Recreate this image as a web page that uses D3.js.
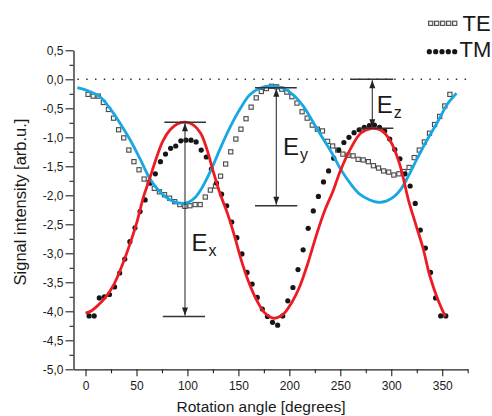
<!DOCTYPE html>
<html><head><meta charset="utf-8">
<script src="https://cdn.jsdelivr.net/npm/d3@7"></script>
<style>
body{margin:0;background:#fff}
svg{display:block}
text{font-family:"Liberation Sans",Arial,Helvetica,sans-serif;fill:#1a1a1a}
</style>
</head><body>
<svg id="chart" width="492" height="416"></svg>
<script>
// ---------- data ----------
const teAngles = [2.5,7.5,12.5,17.5,22.5,27.5,32.5,37.5,42.5,47.5,52.5,57.5,62.5,67.5,72.5,77.5,82.5,87.5,92.5,97.5,102.5,107.5,112.5,117.5,122.5,127.5,132.5,137.5,142.5,147.5,152.5,157.5,162.5,167.5,172.5,177.5,182.5,187.5,192.5,197.5,202.5,207.5,212.5,217.5,222.5,227.5,232.5,237.5,242.5,247.5,252.5,257.5,262.5,267.5,272.5,277.5,282.5,287.5,292.5,297.5,302.5,307.5,312.5,317.5,322.5,327.5,332.5,337.5,342.5,347.5,352.5,357.5];
const teValues = [-0.26,-0.29,-0.29,-0.40,-0.52,-0.67,-0.87,-1.01,-1.22,-1.42,
 -1.56,-1.72,-1.78,-1.88,-1.94,-1.99,-2.05,-2.11,-2.16,-2.19,
 -2.18,-2.16,-2.16,-2.03,-1.91,-1.84,-1.67,-1.46,-1.25,-1.03,
 -0.86,-0.68,-0.48,-0.32,-0.21,-0.16,-0.12,-0.13,-0.17,-0.22,
 -0.30,-0.41,-0.56,-0.67,-0.79,-0.86,-0.89,-1.07,-1.15,-1.22,
 -1.29,-1.31,-1.32,-1.38,-1.39,-1.42,-1.49,-1.53,-1.58,-1.60,
 -1.65,-1.63,-1.59,-1.52,-1.35,-1.22,-1.08,-0.93,-0.78,-0.64,
 -0.46,-0.26];
const tmAngles = [3.5,8.5,13.5,18.5,23.5,28.5,33.5,38.5,43.5,48.5,53.5,58.5,63.5,68.5,73.5,78.5,83.5,88.5,93.5,98.5,103.5,108.5,113.5,118.5,123.5,128.5,133.5,138.5,143.5,148.5,153.5,158.5,163.5,168.5,173.5,178.5,183.5,188.5,193.5,198.5,203.5,208.5,213.5,218.5,223.5,228.5,233.5,238.5,243.5,248.5,253.5,258.5,263.5,268.5,273.5,278.5,283.5,288.5,293.5,298.5,303.5,308.5,313.5,318.5,323.5,328.5,333.5,338.5,343.5,348.5,353.5];
const tmValues = [-4.08,-4.08,-3.77,-3.75,-3.71,-3.58,-3.34,-3.10,-2.80,-2.56,
 -2.28,-2.08,-1.79,-1.63,-1.42,-1.29,-1.19,-1.15,-1.06,-1.05,
 -1.05,-1.08,-1.22,-1.34,-1.55,-1.79,-1.98,-2.18,-2.46,-2.73,
 -3.01,-3.33,-3.53,-3.76,-3.96,-4.09,-4.19,-4.24,-4.08,-3.82,
 -3.59,-3.28,-2.94,-2.57,-2.27,-2.02,-1.77,-1.58,-1.36,-1.22,
 -1.09,-1.00,-0.92,-0.87,-0.83,-0.80,-0.79,-0.83,-0.89,-1.03,
 -1.21,-1.37,-1.63,-1.84,-2.14,-2.60,-2.91,-3.33,-3.77,-4.08,
 -4.08];
// fitted curves
const fitTEAngles = [-8,4,14,24,34,44,54,63,73,83,94,102,108,114,120,126,132,142,152,161,171,183,194,204,214,224,233,243,250,260,269,279,287,295,303,310,317,325,335,345,355,364];
const fitTEValues = [-0.145,-0.21,-0.30,-0.50,-0.76,-1.05,-1.39,-1.71,-1.94,-2.08,-2.14,-2.11,-2.03,-1.88,-1.68,-1.45,-1.20,-0.82,-0.50,-0.27,-0.155,-0.115,-0.155,-0.27,-0.47,-0.76,-1.02,-1.31,-1.54,-1.80,-1.98,-2.08,-2.12,-2.10,-2.02,-1.88,-1.66,-1.38,-1.05,-0.75,-0.43,-0.24];
const fitTMAngles = [0,5,12,20,28,35,42,50,57,63,70,76,83,90,98,106,113,119,125,132,140,147,152,160,168,176,185,194,202,210,218,227,235,243,250,260,270,280,290,299,308,317,324,331,338,346,353];
const fitTMValues = [-4.03,-4.0,-3.9,-3.75,-3.53,-3.25,-2.92,-2.49,-2.02,-1.71,-1.33,-1.06,-0.87,-0.77,-0.74,-0.79,-0.93,-1.2,-1.57,-1.97,-2.35,-2.75,-3.07,-3.49,-3.81,-4.03,-4.12,-4.05,-3.86,-3.58,-3.18,-2.66,-2.25,-1.92,-1.58,-1.2,-0.93,-0.85,-0.88,-1.06,-1.45,-2.09,-2.5,-2.9,-3.4,-3.81,-4.09];

const xMajorTicks = [0,50,100,150,200,250,300,350];
const xMinorTicks = [25,75,125,175,225,275,325,375];
const yMajorTicks = [0.5,0,-0.5,-1,-1.5,-2,-2.5,-3,-3.5,-4,-4.5,-5];
const yTickLabels = ["0,5","0,0","-0,5","-1,0","-1,5","-2,0","-2,5","-3,0","-3,5","-4,0","-4,5","-5,0"];
const yMinorTicks = [0.25,-0.25,-0.75,-1.25,-1.75,-2.25,-2.75,-3.25,-3.75,-4.25,-4.75];

// annotation markers (data units)
const annNames = ["x","y","z"];
const annAngle = [97.6,187.2,281.4];
const annTop = [-0.74,-0.145,0];
const annBottom = [-4.09,-2.18,-0.845];
const annCapTop = [[77.3,118.2],[166.3,207.3],[260.3,302]];
const annCapBottom = [[75.8,117.3],[166.3,207.8],[268.7,302]];
const annLabelPos = [[104,-2.955],[193.8,-1.305],[285.8,-0.586]];

const legendLabels = ["TE","TM"];

// ---------- drawing ----------
const svg = d3.select("#chart");
const x = d3.scaleLinear().domain([-11.8,375]).range([73.5,467.7]);
const y = d3.scaleLinear().domain([-5,0.5]).range([369.3,50.3]);
const ink = "#222";

// zero dotted line
svg.append("line")
  .attr("x1", x(-8)).attr("x2", x(375))
  .attr("y1", y(0)).attr("y2", y(0))
  .attr("stroke", "#333").attr("stroke-width", 1.5)
  .attr("stroke-dasharray", "1.5,7.3");

// axes
function styleAxis(g){
  g.selectAll("path.domain").attr("stroke", ink).attr("stroke-width", 1.3);
  g.selectAll(".tick line").attr("stroke", ink).attr("stroke-width", 1.1);
  g.selectAll(".tick text").attr("font-size", 12).attr("fill", "#1a1a1a")
    .attr("font-family", '"Liberation Sans",Arial,sans-serif');
}
const yAxis = svg.append("g").attr("transform", `translate(${x.range()[0]},0)`)
  .call(d3.axisLeft(y).tickValues(yMajorTicks).tickSize(8).tickSizeOuter(0).tickPadding(2)
    .tickFormat((d,i)=>yTickLabels[i]));
styleAxis(yAxis);
const yMinor = svg.append("g").attr("transform", `translate(${x.range()[0]},0)`)
  .call(d3.axisLeft(y).tickValues(yMinorTicks).tickSize(4).tickSizeOuter(0).tickFormat(""));
yMinor.select("path.domain").remove();
styleAxis(yMinor);

const xAxis = svg.append("g").attr("transform", `translate(0,${y.range()[0]})`)
  .call(d3.axisBottom(x).tickValues(xMajorTicks).tickSize(7).tickSizeOuter(0).tickPadding(5));
styleAxis(xAxis);
const xMinor = svg.append("g").attr("transform", `translate(0,${y.range()[0]})`)
  .call(d3.axisBottom(x).tickValues(xMinorTicks).tickSize(4).tickSizeOuter(0).tickFormat(""));
xMinor.select("path.domain").remove();
styleAxis(xMinor);

// axis titles
svg.append("text").attr("transform", "translate(26,202) rotate(-90)")
  .attr("text-anchor", "middle").attr("font-size", 16.5).text("Signal intensity [arb.u.]");
svg.append("text").attr("x", 261).attr("y", 411.5)
  .attr("text-anchor", "middle").attr("font-size", 15.5).text("Rotation angle [degrees]");

// scatter TE (open squares)
const sq = 4.2;
svg.append("g").selectAll("rect").data(teAngles.map((a,i)=>[a,teValues[i]])).join("rect")
  .attr("x", d=>x(d[0])-sq/2).attr("y", d=>y(d[1])-sq/2)
  .attr("width", sq).attr("height", sq)
  .attr("fill", "#f4f4f4").attr("stroke", "#4a4a4a").attr("stroke-width", 1.1);

// scatter TM (filled dots)
svg.append("g").selectAll("circle").data(tmAngles.map((a,i)=>[a,tmValues[i]])).join("circle")
  .attr("cx", d=>x(d[0])).attr("cy", d=>y(d[1])).attr("r", 2.6)
  .attr("fill", "#161616");

// fit lines
const line = d3.line().x(d=>x(d[0])).y(d=>y(d[1])).curve(d3.curveCatmullRom.alpha(0.5));
svg.append("path").datum(fitTEAngles.map((a,i)=>[a,fitTEValues[i]]))
  .attr("d", line).attr("fill","none").attr("stroke","#17a8e3").attr("stroke-width",2.8);
svg.append("path").datum(fitTMAngles.map((a,i)=>[a,fitTMValues[i]]))
  .attr("d", line).attr("fill","none").attr("stroke","#ec1c24").attr("stroke-width",2.8);

// annotations
const ann = svg.append("g");
annNames.forEach((nm,i)=>{
  const ax = x(annAngle[i]), yt = y(annTop[i]), yb = y(annBottom[i]);
  ann.append("line").attr("x1",ax).attr("x2",ax).attr("y1",yt+1).attr("y2",yb-1)
    .attr("stroke","#333").attr("stroke-width",1.1);
  ann.append("line").attr("x1",x(annCapTop[i][0])).attr("x2",x(annCapTop[i][1]))
    .attr("y1",yt).attr("y2",yt).attr("stroke","#333").attr("stroke-width",1.4);
  ann.append("line").attr("x1",x(annCapBottom[i][0])).attr("x2",x(annCapBottom[i][1]))
    .attr("y1",yb).attr("y2",yb).attr("stroke","#333").attr("stroke-width",1.4);
  // arrowheads
  ann.append("path").attr("d",`M${ax},${yt+1}L${ax-3},${yt+9}L${ax+3},${yt+9}Z`).attr("fill","#222");
  ann.append("path").attr("d",`M${ax},${yb-1}L${ax-3},${yb-9}L${ax+3},${yb-9}Z`).attr("fill","#222");
  const t = ann.append("text").attr("x", x(annLabelPos[i][0])).attr("y", y(annLabelPos[i][1]))
    .attr("font-size", 24);
  t.append("tspan").text("E");
  t.append("tspan").attr("dx", 1).attr("dy", 5).attr("font-size", 16).text(nm);
});

// legend
const lg = svg.append("g");
[430.7,436.7,442.7,448.7,454.7].forEach(cx=>{
  lg.append("rect").attr("x",cx-2.1).attr("y",23.3-2.1).attr("width",4.2).attr("height",4.2)
    .attr("fill","#f4f4f4").attr("stroke","#4a4a4a").attr("stroke-width",1.1);
});
[429.3,435.7,442,448.3,454.7].forEach(cx=>{
  lg.append("circle").attr("cx",cx).attr("cy",51.7).attr("r",2.6).attr("fill","#161616");
});
lg.append("text").attr("x",462.5).attr("y",30.5).attr("font-size",22).text(legendLabels[0]);
lg.append("text").attr("x",459.5).attr("y",57).attr("font-size",22).text(legendLabels[1]);
</script>
</body></html>
